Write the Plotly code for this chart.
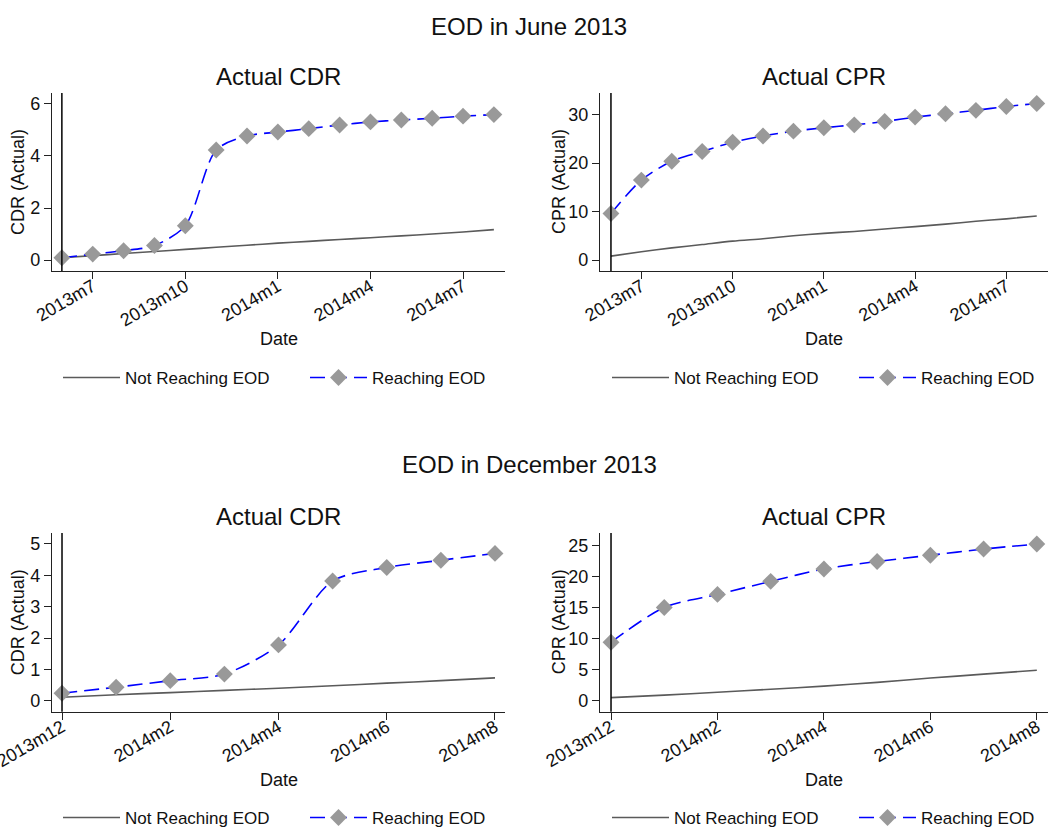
import plotly.graph_objects as go

# ---------------- data ----------------
months_jun = ["2013m6", "2013m7", "2013m8", "2013m9", "2013m10", "2013m11", "2013m12",
              "2014m1", "2014m2", "2014m3", "2014m4", "2014m5", "2014m6", "2014m7", "2014m8"]
months_dec = ["2013m12", "2014m1", "2014m2", "2014m3", "2014m4", "2014m5", "2014m6",
              "2014m7", "2014m8"]

ticks_jun = ["2013m7", "2013m10", "2014m1", "2014m4", "2014m7"]
ticks_dec = ["2013m12", "2014m2", "2014m4", "2014m6", "2014m8"]

cdr_jun_reach = [0.09, 0.23, 0.36, 0.56, 1.32, 4.23, 4.77, 4.92, 5.05, 5.19, 5.31, 5.38, 5.45, 5.53, 5.59]
cdr_jun_not = [0.09, 0.17, 0.25, 0.33, 0.41, 0.49, 0.57, 0.65, 0.72, 0.79, 0.86, 0.93, 1.00, 1.08, 1.17]
cpr_jun_reach = [9.6, 16.5, 20.4, 22.4, 24.3, 25.6, 26.6, 27.3, 27.9, 28.6, 29.5, 30.2, 30.9, 31.7, 32.3]
cpr_jun_not = [0.8, 1.7, 2.5, 3.2, 3.9, 4.4, 5.0, 5.5, 5.9, 6.4, 6.9, 7.4, 8.0, 8.5, 9.1]

cdr_dec_reach = [0.24, 0.43, 0.64, 0.85, 1.78, 3.82, 4.25, 4.48, 4.70]
cdr_dec_not = [0.11, 0.19, 0.26, 0.33, 0.40, 0.48, 0.56, 0.64, 0.73]
cpr_dec_reach = [9.4, 15.0, 17.1, 19.2, 21.2, 22.4, 23.4, 24.4, 25.2]
cpr_dec_not = [0.5, 0.9, 1.36, 1.85, 2.34, 2.95, 3.64, 4.27, 4.89]

series_names = ["Not Reaching EOD", "Reaching EOD"]
main_titles = ["EOD in June 2013", "EOD in December 2013"]
sub_titles = ["Actual CDR", "Actual CPR"]
y_titles = ["CDR (Actual)", "CPR (Actual)"]
x_title = "Date"


def tm(label):
    """Stata monthly date number from a label like '2013m7'."""
    y, m = label.split("m")
    return (int(y) - 1960) * 12 + int(m) - 1


W, H = 1058, 832
FONT = "Liberation Sans, Arial, Helvetica, sans-serif"

fig = go.Figure()

panels = [
    dict(m=months_jun, t=ticks_jun, nr=cdr_jun_not, r=cdr_jun_reach, yt=[0, 2, 4, 6],
         xd=(52, 505), yd=(93, 271), xp=(-0.32, 0.36), yr=(-0.42, 6.42), ytx=34),
    dict(m=months_jun, t=ticks_jun, nr=cpr_jun_not, r=cpr_jun_reach, yt=[0, 10, 20, 30],
         xd=(600, 1048), yd=(93, 271), xp=(-0.36, 0.37), yr=(-2.27, 34.48), ytx=41),
    dict(m=months_dec, t=ticks_dec, nr=cdr_dec_not, r=cdr_dec_reach, yt=[0, 1, 2, 3, 4, 5],
         xd=(52, 505), yd=(533, 711.7), xp=(-0.185, 0.185), yr=(-0.35, 5.35), ytx=34),
    dict(m=months_dec, t=ticks_dec, nr=cpr_dec_not, r=cpr_dec_reach, yt=[0, 5, 10, 15, 20, 25],
         xd=(600, 1048), yd=(533, 711.7), xp=(-0.207, 0.21), yr=(-1.77, 26.98), ytx=41),
]

legend_pos = [(58, 378), (607, 378), (58, 818), (607, 818)]

annotations = []
shapes = []
layout_axes = {}

for i, p in enumerate(panels):
    k = "" if i == 0 else str(i + 1)
    xs = [tm(s) for s in p["m"]]
    leg = "legend" if i == 0 else f"legend{i + 1}"
    fig.add_trace(go.Scatter(
        x=xs, y=p["nr"], mode="lines", name=series_names[0],
        line=dict(color="#5a5a5a", width=1.6, shape="spline", smoothing=0.8),
        xaxis="x" + k, yaxis="y" + k, legend=leg))
    fig.add_trace(go.Scatter(
        x=xs, y=p["r"], mode="lines+markers", name=series_names[1],
        line=dict(color="#0000ff", width=1.6, dash="15px,7px", shape="spline", smoothing=0.8),
        marker=dict(symbol="diamond", size=13, color="#999999", line=dict(width=0)),
        xaxis="x" + k, yaxis="y" + k, legend=leg))

    x0 = xs[0]
    x1 = xs[-1]
    axis_common = dict(showline=True, linecolor="#222222", linewidth=1.2, ticks="outside",
                       ticklen=7, tickwidth=1.2, tickcolor="#222222", showgrid=False,
                       zeroline=False, automargin=False,
                       tickfont=dict(size=18, color="#111111", family=FONT))
    layout_axes["xaxis" + k] = dict(
        domain=[p["xd"][0] / W, p["xd"][1] / W], anchor="y" + k,
        range=[x0 + p["xp"][0], x1 + p["xp"][1]],
        tickmode="array", tickvals=[tm(s) for s in p["t"]], ticktext=p["t"],
        tickangle=-30, ticklabelstandoff=-10, ticklabeloverflow="allow", **axis_common)
    layout_axes["yaxis" + k] = dict(
        domain=[1 - p["yd"][1] / H, 1 - p["yd"][0] / H], anchor="x" + k,
        range=list(p["yr"]), tickmode="array", tickvals=p["yt"],
        **axis_common)

    shapes.append(dict(type="line", xref="x" + k, yref=f"y{k} domain",
                       x0=x0, x1=x0, y0=0, y1=1,
                       line=dict(color="#000000", width=1.5)))

    cx = (p["xd"][0] + p["xd"][1]) / 2 / W
    annotations.append(dict(text=sub_titles[i % 2], xref="paper", yref="paper",
                            x=cx, y=1 - (p["yd"][0] - 17) / H, xanchor="center", yanchor="middle",
                            showarrow=False, font=dict(size=24, color="#111111", family=FONT)))
    annotations.append(dict(text=x_title, xref="paper", yref="paper",
                            x=cx, y=1 - (p["yd"][1] + 68) / H, xanchor="center", yanchor="middle",
                            showarrow=False, font=dict(size=18, color="#111111", family=FONT)))
    annotations.append(dict(text=y_titles[i % 2], xref="paper", yref="paper",
                            x=(p["xd"][0] - p["ytx"]) / W, y=1 - (p["yd"][0] + p["yd"][1]) / 2 / H,
                            xanchor="center", yanchor="middle", textangle=-90,
                            showarrow=False, font=dict(size=18, color="#111111", family=FONT)))

annotations.append(dict(text=main_titles[0], xref="paper", yref="paper", x=0.5, y=1 - 26 / H,
                        xanchor="center", yanchor="middle", showarrow=False,
                        font=dict(size=24, color="#111111", family=FONT)))
annotations.append(dict(text=main_titles[1], xref="paper", yref="paper", x=0.5, y=1 - 465 / H,
                        xanchor="center", yanchor="middle", showarrow=False,
                        font=dict(size=24, color="#111111", family=FONT)))

legends = {}
for i, (lx, ly) in enumerate(legend_pos):
    key = "legend" if i == 0 else f"legend{i + 1}"
    legends[key] = dict(orientation="h", x=lx / W, y=1 - ly / H, xanchor="left", yanchor="middle",
                        font=dict(size=17, color="#111111", family=FONT),
                        bgcolor="rgba(0,0,0,0)", itemwidth=57,
                        entrywidth=175, entrywidthmode="pixels", tracegroupgap=0)

fig.update_layout(
    width=W, height=H,
    margin=dict(l=0, r=0, t=0, b=0, autoexpand=False),
    paper_bgcolor="white", plot_bgcolor="white",
    font=dict(family=FONT, color="#111111"),
    showlegend=True,
    annotations=annotations, shapes=shapes,
    **layout_axes, **legends,
)

fig.write_html("out.html", config={"displayModeBar": False},
               post_script="document.body.style.margin='0';")
